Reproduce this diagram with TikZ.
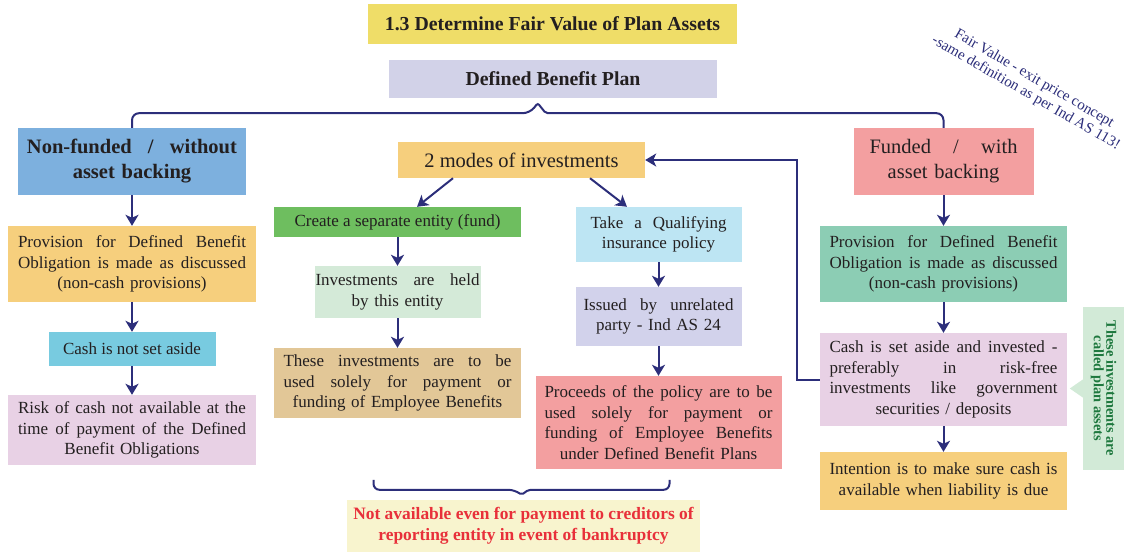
\documentclass[tikz,border=0pt]{standalone}
\usepackage{fontspec}
\setmainfont{Liberation Serif}
\usepackage{xcolor}
\usepackage{tikz}
\usetikzlibrary{positioning, calc, arrows.meta}

\definecolor{navyline}{RGB}{44,46,122}
\definecolor{boxtext}{RGB}{35,31,32}
\definecolor{titleyellow}{RGB}{239,221,104}
\definecolor{dbplilac}{RGB}{210,210,232}
\definecolor{nfblue}{RGB}{125,176,222}
\definecolor{provorange}{RGB}{246,207,125}
\definecolor{cashcyan}{RGB}{120,203,224}
\definecolor{riskpink}{RGB}{232,209,229}
\definecolor{fundgreen}{RGB}{110,190,95}
\definecolor{heldgreen}{RGB}{212,234,216}
\definecolor{soletan}{RGB}{226,199,151}
\definecolor{qualblue}{RGB}{189,229,243}
\definecolor{issuedlilac}{RGB}{210,210,235}
\definecolor{salmon}{RGB}{243,159,160}
\definecolor{bankyellow}{RGB}{248,244,206}
\definecolor{bankred}{RGB}{232,48,58}
\definecolor{provgreen}{RGB}{140,205,180}
\definecolor{planbg}{RGB}{210,234,215}
\definecolor{plantext}{RGB}{30,120,62}

\newcommand{\bodyfs}{\fontsize{17}{20.5}\selectfont}
\newcommand{\headfs}{\fontsize{20.5}{25}\selectfont}
\newcommand{\titlefs}{\fontsize{19.8}{22}\selectfont\bfseries}
\newcommand{\notefs}{\fontsize{15}{16.5}\selectfont}
% a line spread out to the full text width
\newcommand{\spreadline}[1]{\leavevmode\hbox to \linewidth{\spaceskip=\fontdimen2\font plus 1fil\relax #1}}

\begin{document}
\begin{tikzpicture}[
    x=1pt, y=-1pt,
    flatbox/.style={rectangle, inner sep=0pt, text=boxtext, font=\bodyfs, align=center},
    arrow/.style={draw=navyline, line width=2pt, -{Stealth[length=11pt, width=13pt, inset=3pt]}},
    link/.style={draw=navyline, line width=2pt}
]
    \useasboundingbox (0,0) rectangle (1124,552);

    % ================= TITLE =================
    \node[flatbox, fill=titleyellow, minimum width=369, minimum height=40, font=\titlefs] (title) at (552.5, 24) {1.3 Determine Fair Value of Plan Assets};
    \node[flatbox, fill=dbplilac, minimum width=328, minimum height=38, font=\titlefs] (dbp) at (553, 79) {Defined Benefit Plan};

    \node[rotate=-30, align=center, font=\notefs, text=navyline] (fvnote) at (1030, 86) {Fair Value - exit price concept\\-same definition as per Ind AS 113!};

    % ================= NON-FUNDED =================
    \node[flatbox, fill=nfblue, minimum width=228, minimum height=67, text width=210, font=\headfs\bfseries] (nonfund) at (132, 161.5) {\spreadline{Non-funded / without}\\asset backing};
    \node[flatbox, fill=provorange, minimum width=248, minimum height=76, text width=228] (provnf) at (132, 264) {\spreadline{Provision for Defined Benefit}\\\spreadline{Obligation is made as discussed}\\(non-cash provisions)};
    \node[flatbox, fill=cashcyan, minimum width=167, minimum height=34] (cashno) at (132, 349) {Cash is not set aside};
    \node[flatbox, fill=riskpink, minimum width=248, minimum height=70, text width=228] (risk) at (132, 430) {\spreadline{Risk of cash not available at the}\\\spreadline{time of payment of the Defined}\\Benefit Obligations};

    \draw[arrow] (nonfund) -- (provnf);
    \draw[arrow] (provnf) -- (cashno);
    \draw[arrow] (cashno) -- (risk);

    % ================= MODES OF INVESTMENT =================
    \node[flatbox, fill=provorange, minimum width=247, minimum height=36, font=\headfs] (modes) at (521.5, 160) {2 modes of investments};

    \node[flatbox, fill=fundgreen, minimum width=247, minimum height=30] (fund) at (397.5, 222) {Create a separate entity (fund)};
    \node[flatbox, fill=heldgreen, minimum width=166, minimum height=52, text width=164] (held) at (397.5, 292) {\spreadline{Investments are held}\\by this entity};
    \node[flatbox, fill=soletan, minimum width=247, minimum height=70, text width=228] (solely) at (397.5, 383) {\spreadline{These investments are to be}\\\spreadline{used solely for payment or}\\funding of Employee Benefits};

    \node[flatbox, fill=qualblue, minimum width=166, minimum height=55, text width=136] (qual) at (658.5, 234.5) {\spreadline{Take a Qualifying}\\insurance policy};
    \node[flatbox, fill=issuedlilac, minimum width=166, minimum height=59, text width=150] (issued) at (658.5, 316.5) {\spreadline{Issued by unrelated}\\party - Ind AS 24};
    \node[flatbox, fill=salmon, minimum width=246, minimum height=93, text width=228] (proceeds) at (658.5, 422.5) {\spreadline{Proceeds of the policy are to be}\\\spreadline{used solely for payment or}\\\spreadline{funding of Employee Benefits}\\under Defined Benefit Plans};

    \draw[arrow] ($(modes.south)+(-68.5,0)$) -- ($(fund.north)+(19.5,0)$);
    \draw[arrow] ($(modes.south)+(68.5,0)$) -- ($(qual.north)+(-31.5,0)$);
    \draw[arrow] (fund) -- (held);
    \draw[arrow] (held) -- (solely);
    \draw[arrow] (qual) -- (issued);
    \draw[arrow] (issued) -- (proceeds);

    \node[flatbox, fill=bankyellow, minimum width=353, minimum height=52, font=\fontsize{17.4}{20.5}\selectfont\bfseries, text=bankred] (bankrupt) at (523.5, 526) {Not available even for payment to creditors of\\reporting entity in event of bankruptcy};

    % brace over both modes
    \coordinate (btip) at ($(bankrupt.north)+(-2,-5)$);
    \draw[link, rounded corners=6pt] ($(btip)+(-148,-15)$) |- ($(btip)+(-7,-5)$) [rounded corners=2pt] -- (btip) -- ($(btip)+(7,-5)$) [rounded corners=6pt] -| ($(btip)+(148,-15)$);

    % ================= FUNDED =================
    \node[flatbox, fill=salmon, minimum width=180, minimum height=67, text width=148, font=\headfs] (funded) at (943.5, 161.5) {\spreadline{Funded / with}\\asset backing};
    \node[flatbox, fill=provgreen, minimum width=247, minimum height=76, text width=228] (provf) at (943.5, 264) {\spreadline{Provision for Defined Benefit}\\\spreadline{Obligation is made as discussed}\\(non-cash provisions)};
    \node[flatbox, fill=riskpink, minimum width=247, minimum height=93, text width=228] (cashset) at (943.5, 379.5) {\spreadline{Cash is set aside and invested -}\\\spreadline{preferably in risk-free}\\\spreadline{investments like government}\\securities / deposits};
    \node[flatbox, fill=provorange, minimum width=247, minimum height=58, text width=228] (intent) at (943.5, 481) {\spreadline{Intention is to make sure cash is}\\available when liability is due};

    \draw[arrow] (funded) -- (provf);
    \draw[arrow] (provf) -- (cashset);
    \draw[arrow] (cashset) -- (intent);
    \draw[arrow] (cashset.west) -- ++(-23,0) |- (modes.east);

    \node[flatbox, fill=planbg, rotate=-90, minimum width=163, minimum height=41, font=\fontsize{14.4}{12.5}\selectfont\bfseries, text=plantext] (plannote) at (1103.5, 388.5) {These investments are\\called plan assets};
    \fill[planbg] ($(plannote.south)+(0,-9)$) -- ++(-13,9) -- ($(plannote.south)+(0,9)$) -- cycle;

    % ================= DEFINED BENEFIT PLAN BRACKET =================
    \coordinate (brtip) at ($(nonfund.north)!0.5!(funded.north)$);
    \coordinate (brmid) at (brtip |- dbp.south);
    \draw[link, rounded corners=7pt] (nonfund.north) |- ($(brmid)+(-8,15)$) [rounded corners=2pt] -- ($(brmid)+(0,5)$) -- ($(brmid)+(8,15)$) [rounded corners=7pt] -| (funded.north);

\end{tikzpicture}
\end{document}
